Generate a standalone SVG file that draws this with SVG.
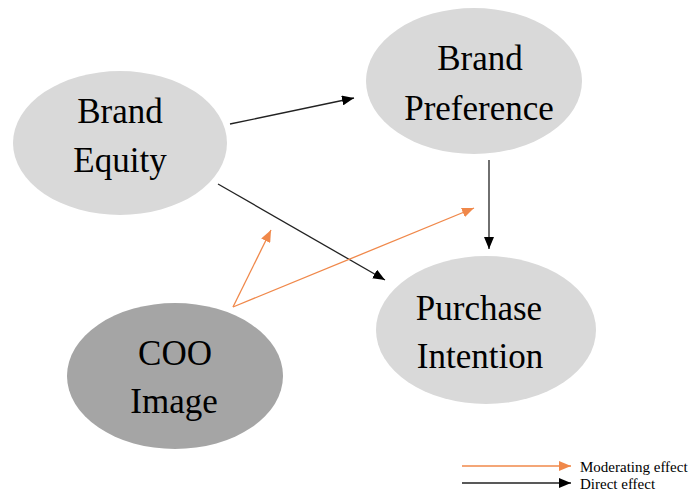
<svg xmlns="http://www.w3.org/2000/svg" width="691" height="495" viewBox="0 0 691 495">
  <style>
    .node-light { fill: #d9d9d9; }
    .node-dark { fill: #a5a5a5; }
    .label { font-family: "Liberation Serif", "Times New Roman", serif; font-size: 35px; fill: #000; text-anchor: middle; }
    .legend { font-family: "Liberation Serif", "Times New Roman", serif; font-size: 15px; fill: #000; }
    .direct { stroke: #222; stroke-width: 1.3; fill: none; marker-end: url(#head-black); }
    .moderate { stroke: #f0884a; stroke-width: 1.3; fill: none; marker-end: url(#head-orange); }
  </style>
  <defs>
    <marker id="head-black" viewBox="0 0 12 10" refX="12" refY="5" markerWidth="12" markerHeight="10" markerUnits="userSpaceOnUse" orient="auto">
      <path d="M0,0 L12,5 L0,10 Z" fill="#000"/>
    </marker>
    <marker id="head-orange" viewBox="0 0 12 10" refX="12" refY="5" markerWidth="12" markerHeight="10" markerUnits="userSpaceOnUse" orient="auto">
      <path d="M0,0 L12,5 L0,10 Z" fill="#f0884a"/>
    </marker>
  </defs>
  <rect width="691" height="495" fill="#fff"/>

  <g id="brand-equity">
    <ellipse class="node-light" cx="120" cy="143" rx="107" ry="72"/>
    <text class="label" x="120" y="123">Brand</text>
    <text class="label" x="120" y="172">Equity</text>
  </g>

  <g id="brand-preference">
    <ellipse class="node-light" cx="474" cy="81" rx="108" ry="73"/>
    <text class="label" x="480" y="70">Brand</text>
    <text class="label" x="479" y="120">Preference</text>
  </g>

  <g id="purchase-intention">
    <ellipse class="node-light" cx="486" cy="330" rx="110" ry="74"/>
    <text class="label" x="479" y="320">Purchase</text>
    <text class="label" x="480" y="368">Intention</text>
  </g>

  <g id="coo-image">
    <ellipse class="node-dark" cx="175" cy="376" rx="108" ry="73"/>
    <text class="label" x="175" y="365">COO</text>
    <text class="label" x="174" y="413">Image</text>
  </g>

  <g id="connectors">
    <line class="direct" x1="230" y1="124" x2="354" y2="98"/>
    <line class="direct" x1="489" y1="160" x2="489" y2="249"/>
    <line class="direct" x1="218" y1="184" x2="385" y2="280"/>
    <line class="moderate" x1="233" y1="307" x2="271" y2="230"/>
    <line class="moderate" x1="233" y1="307" x2="474" y2="208"/>
  </g>

  <g id="legend">
    <line class="moderate" x1="462" y1="466" x2="571" y2="466"/>
    <text class="legend" x="580" y="472">Moderating effect</text>
    <line class="direct" x1="462" y1="483" x2="571" y2="483"/>
    <text class="legend" x="580" y="489">Direct effect</text>
  </g>
</svg>
